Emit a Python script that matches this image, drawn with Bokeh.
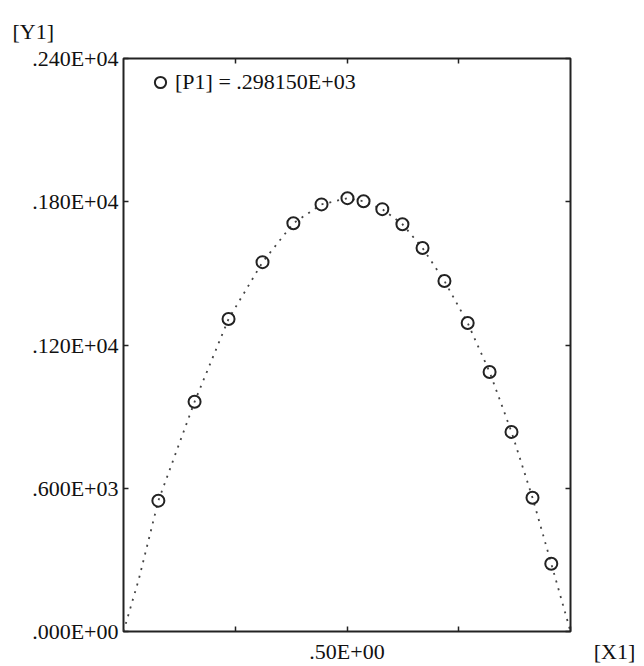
from bokeh.plotting import figure
from bokeh.models import (Range1d, FixedTicker, LinearAxis, Title, Legend, LegendItem)
from bokeh.embed import file_html
from bokeh.resources import INLINE

# ---- data ----
x_points = [0.078, 0.159, 0.235, 0.311, 0.380, 0.443, 0.501, 0.537, 0.579,
            0.624, 0.669, 0.718, 0.770, 0.819, 0.868, 0.915, 0.957]
y_points = [548, 962, 1309, 1547, 1710, 1789, 1815, 1802, 1769,
            1706, 1606, 1468, 1292, 1087, 836, 560, 284]

curve_x = [0.0, 0.034, 0.078, 0.159, 0.235, 0.311, 0.380, 0.443, 0.501, 0.537,
           0.579, 0.624, 0.669, 0.718, 0.770, 0.819, 0.868, 0.915, 0.957, 1.0]
curve_y = [0, 217, 548, 962, 1309, 1547, 1710, 1789, 1815, 1802,
           1769, 1706, 1606, 1468, 1292, 1087, 836, 560, 284, 0]

y_tick_values = [0, 600, 1200, 1800, 2400]
y_tick_labels = [".000E+00", ".600E+03", ".120E+04", ".180E+04", ".240E+04"]
x_tick_values = [0.25, 0.5, 0.75, 1.0]
x_title = "[X1]"
y_title = "[Y1]"
# the x-axis title sits on the tick-label row, right of the frame
x_tick_labels = ["", ".50E+00", "", "\u00a0" * 16 + x_title]

legend_text = "[P1] = .298150E+03"

FONT = "Liberation Serif"
FS = "22px"
INK = "#222222"

p = figure(width=644, height=666, output_backend="svg", toolbar_location=None,
           x_range=Range1d(0, 1), y_range=Range1d(0, 2400),
           min_border_left=123, min_border_right=74, min_border_top=58,
           min_border_bottom=34, background_fill_color="white",
           border_fill_color="white")

p.xgrid.visible = False
p.ygrid.visible = False
p.outline_line_color = INK
p.outline_line_width = 2

def style_axis(ax, ticks, labels, show_labels=True):
    ax.ticker = FixedTicker(ticks=ticks)
    ax.major_label_overrides = {t: l for t, l in zip(ticks, labels)}
    ax.axis_line_color = None
    ax.major_tick_in = 5
    ax.major_tick_out = 0
    ax.major_tick_line_color = INK
    ax.major_tick_line_width = 1.5
    ax.minor_tick_line_color = None
    ax.major_label_text_font = FONT
    ax.major_label_text_color = "#111111"
    if show_labels:
        ax.major_label_text_font_size = FS
    else:
        ax.major_label_text_font_size = "0px"

style_axis(p.xaxis[0], x_tick_values, x_tick_labels)
p.xaxis[0].major_label_standoff = 7
style_axis(p.yaxis[0], y_tick_values, y_tick_labels)
p.yaxis[0].major_label_standoff = 5

top_ax = LinearAxis()
right_ax = LinearAxis()
p.add_layout(top_ax, "above")
p.add_layout(right_ax, "right")
style_axis(top_ax, x_tick_values[:3], ["", "", ""], show_labels=False)
style_axis(right_ax, y_tick_values, [""] * 5, show_labels=False)

p.line(curve_x, curve_y, line_color="#444444", line_width=1.8, line_dash="2 6")
pts = p.scatter(x_points, y_points, marker="circle", size=12, fill_color=None,
                line_color=INK, line_width=2)

legend = Legend(items=[LegendItem(label=legend_text, renderers=[pts])],
                location=(23, 535), padding=0, margin=0, spacing=0,
                glyph_width=28, glyph_height=28, label_standoff=1,
                background_fill_alpha=0, border_line_color=None,
                label_text_font=FONT, label_text_font_size=FS,
                label_text_color="#111111")
p.add_layout(legend, "center")

p.title = Title(text=y_title, align="left", vertical_align="top", offset=-111,
                standoff=25, text_font=FONT, text_font_size=FS,
                text_font_style="normal", text_color="#111111")

open("out.html", "w").write(file_html(p, INLINE))
